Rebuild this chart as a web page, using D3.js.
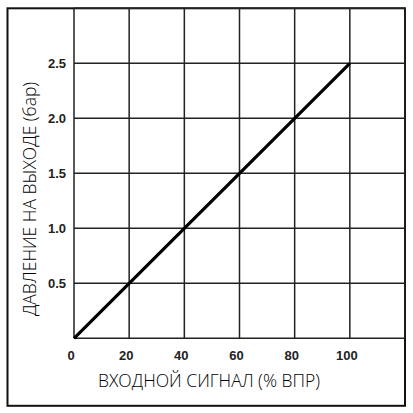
<!DOCTYPE html>
<html lang="ru">
<head>
<meta charset="UTF-8">
<title>Chart</title>
<style>
    body { margin: 0; background: #fff; }
    .tick-label { font: bold 13px "Liberation Sans", Arial, sans-serif; fill: #222; }
    .title { font-family: "Open Sans", sans-serif; font-weight: 300; font-size: 17.5px; fill: #000; }
</style>
</head>
<body>
<svg width="413" height="413"></svg>
<script src="https://cdn.jsdelivr.net/npm/d3@7/dist/d3.min.js"></script>
<script>

var signal = [0, 20, 40, 60, 80, 100];
var pressure = [0, 0.5, 1.0, 1.5, 2.0, 2.5];
var xTicks = [0, 20, 40, 60, 80, 100];
var yTicks = [0.5, 1.0, 1.5, 2.0, 2.5];
var xGrid = [0, 20, 40, 60, 80, 100, 120];
var yGrid = [0, 0.5, 1.0, 1.5, 2.0, 2.5, 3.0];

var svg = d3.select("svg");

var x = d3.scaleLinear().domain([0, 120]).range([74, 405]);
var y = d3.scaleLinear().domain([0, 3]).range([338.3, 8.3]);

// outer frame
svg.append("rect")
    .attr("x", 7.5).attr("y", 8.3)
    .attr("width", 397.5).attr("height", 397.5)
    .attr("fill", "none")
    .attr("stroke", "#111")
    .attr("stroke-width", 2);

var grid = svg.append("g").attr("stroke", "#222").attr("stroke-width", 1.5);

grid.selectAll(".vx")
    .data(xGrid)
    .enter().append("line")
    .attr("x1", function(d) { return x(d); })
    .attr("x2", function(d) { return x(d); })
    .attr("y1", y(0)).attr("y2", y(3));

grid.selectAll(".hy")
    .data(yGrid)
    .enter().append("line")
    .attr("x1", x(0)).attr("x2", x(120))
    .attr("y1", function(d) { return y(d); })
    .attr("y2", function(d) { return y(d); });

var line = d3.line()
    .x(function(d, i) { return x(signal[i]); })
    .y(function(d) { return y(d); });

svg.append("path")
    .datum(pressure)
    .attr("d", line)
    .attr("fill", "none")
    .attr("stroke", "#000")
    .attr("stroke-width", 3.2);

svg.selectAll(".xt")
    .data(xTicks)
    .enter().append("text")
    .attr("class", "tick-label")
    .attr("x", function(d) { return x(d) - 3; })
    .attr("y", 360)
    .attr("text-anchor", "middle")
    .text(function(d) { return d; });

svg.selectAll(".yt")
    .data(yTicks)
    .enter().append("text")
    .attr("class", "tick-label")
    .attr("x", 66)
    .attr("y", function(d) { return y(d) + 4.5; })
    .attr("text-anchor", "end")
    .text(function(d) { return d.toFixed(1); });

svg.append("text")
    .attr("class", "title")
    .attr("x", 209)
    .attr("y", 387)
    .attr("text-anchor", "middle")
    .text("ВХОДНОЙ СИГНАЛ (% ВПР)");

svg.append("text")
    .attr("class", "title")
    .attr("transform", "translate(36,199) rotate(-90)")
    .attr("text-anchor", "middle")
    .text("ДАВЛЕНИЕ НА ВЫХОДЕ (бар)");

</script>
</body>
</html>
